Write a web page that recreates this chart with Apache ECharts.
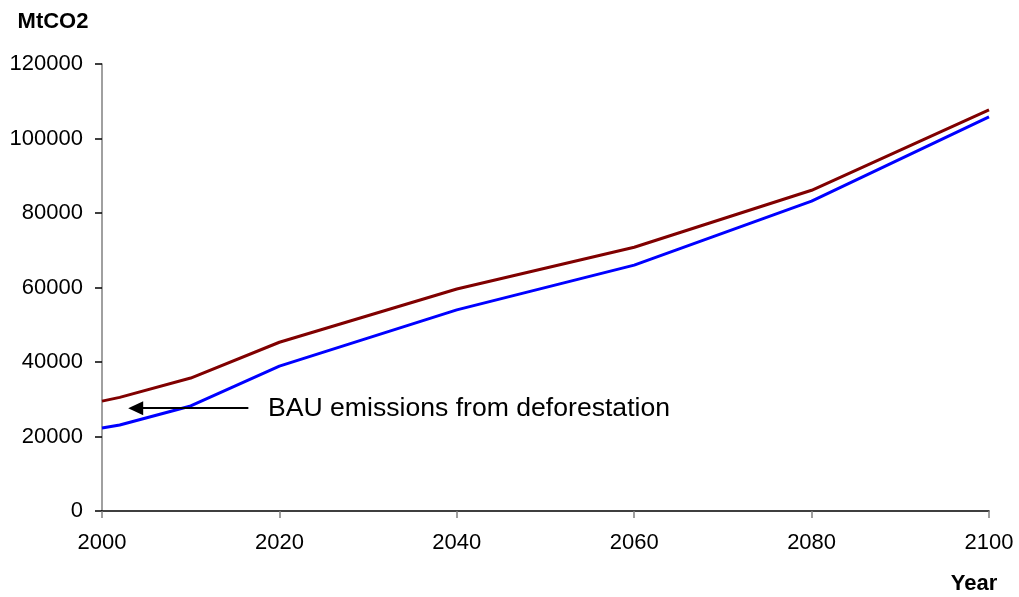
<!DOCTYPE html>
<html><head><meta charset="utf-8">
<script src="https://cdn.jsdelivr.net/npm/echarts@6/dist/echarts.min.js"></script>
<style>html,body{margin:0;padding:0;background:#fff}#c{width:1019px;height:597px}</style>
</head><body><div id="c"></div>
<script>
const years = [2000, 2002, 2010, 2020, 2040, 2060, 2080, 2100];
const totalEmissions = [29500, 30500, 35700, 45300, 59600, 70800, 86100, 107700];
const fossilEmissions = [22300, 23100, 28200, 38900, 54000, 66000, 83200, 105800];
const arrowFrom = [2016.5, 27600];
const arrowTo = [2003.8, 27600];
const annotation = 'BAU emissions from deforestation';
const yTitle = 'MtCO2';
const xTitle = 'Year';

const chart = echarts.init(document.getElementById('c'));
const font = 'Liberation Sans, Arial, sans-serif';
chart.setOption({
  animation: false,
  grid: {left: 102, right: 30, top: 64, bottom: 86},
  xAxis: {
    type: 'value', min: 2000, max: 2100, interval: 20,
    axisLine: {show: true, onZero: false, lineStyle: {color: '#000', width: 1.5}},
    axisTick: {show: true, length: 7, lineStyle: {color: '#808080', width: 1.5}},
    axisLabel: {color: '#000', fontSize: 22, fontFamily: font, margin: 21, formatter: v => String(v)},
    splitLine: {show: false}
  },
  yAxis: {
    type: 'value', min: 0, max: 120000, interval: 20000,
    axisLine: {show: true, lineStyle: {color: '#808080', width: 1.5}},
    axisTick: {show: true, length: 7, lineStyle: {color: '#000', width: 1.5}},
    axisLabel: {color: '#000', fontSize: 22, fontFamily: font, margin: 19, formatter: v => String(v)},
    splitLine: {show: false}
  },
  series: [
    {type: 'line', data: years.map((y, i) => [y, totalEmissions[i]]), symbol: 'none',
     lineStyle: {color: '#800000', width: 3}, z: 3,
     markLine: {silent: true, symbol: ['none', 'triangle'], symbolSize: [14, 15],
       lineStyle: {color: '#000', width: 2, type: 'solid'}, label: {show: false},
       emphasis: {disabled: true},
       data: [[{coord: arrowFrom}, {coord: arrowTo}]]}},
    {type: 'line', data: years.map((y, i) => [y, fossilEmissions[i]]), symbol: 'none',
     lineStyle: {color: '#0000ff', width: 3}, z: 4}
  ],
  graphic: [
    {type: 'text', x: 268, y: 409, style: {text: annotation, fontSize: 26.6, fontFamily: font, fill: '#000', verticalAlign: 'middle', align: 'left'}},
    {type: 'text', x: 53, y: 22, style: {text: yTitle, fontSize: 22, fontWeight: 'bold', fontFamily: font, fill: '#000', verticalAlign: 'middle', align: 'center'}},
    {type: 'text', x: 974, y: 584, style: {text: xTitle, fontSize: 22, fontWeight: 'bold', fontFamily: font, fill: '#000', verticalAlign: 'middle', align: 'center'}}
  ]
});
</script></body></html>
